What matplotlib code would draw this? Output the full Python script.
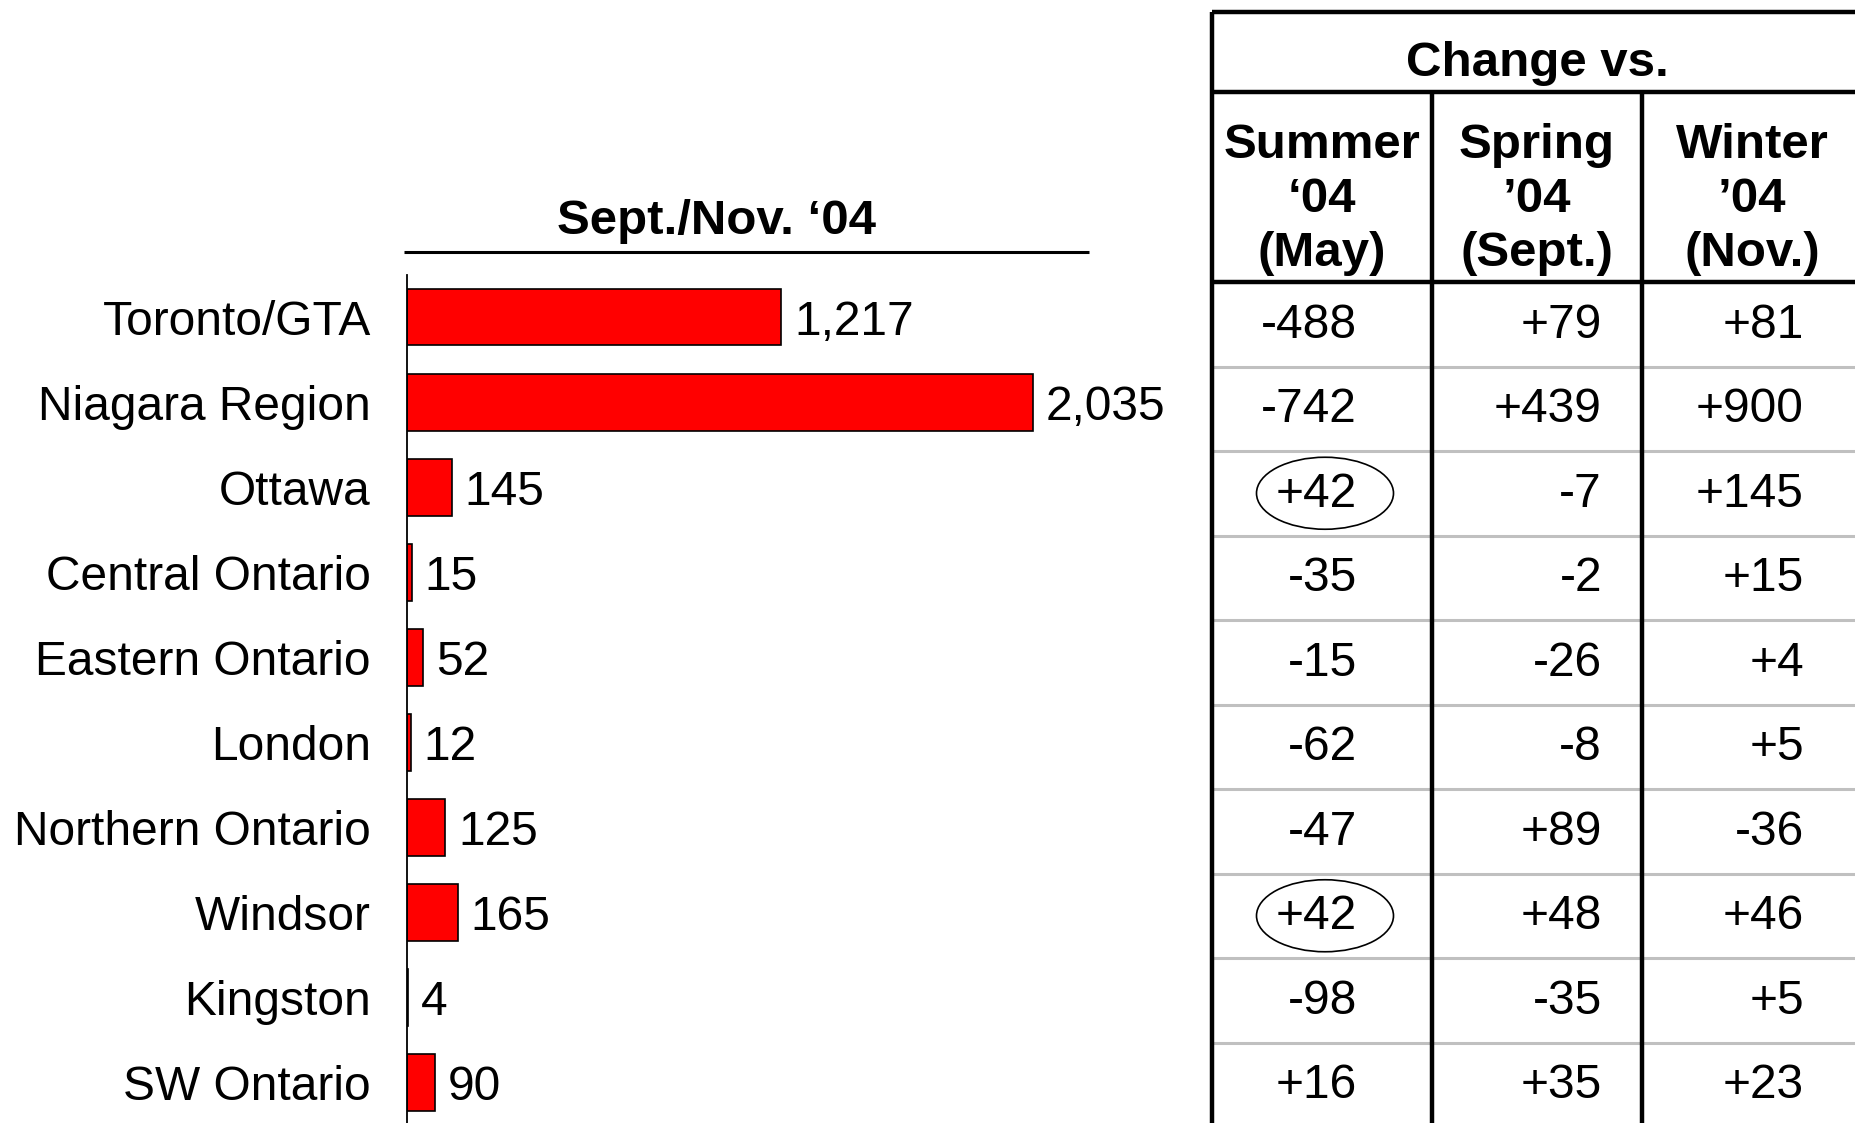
import matplotlib
matplotlib.use('Agg')
import matplotlib.pyplot as plt
from matplotlib.patches import Ellipse

# Данные
regions = ['Toronto/GTA', 'Niagara Region', 'Ottawa', 'Central Ontario', 'Eastern Ontario',
           'London', 'Northern Ontario', 'Windsor', 'Kingston', 'SW Ontario']
sept_nov = [1217, 2035, 145, 15, 52, 12, 125, 165, 4, 90]
vs_summer = ['-488', '-742', '+42', '-35', '-15', '-62', '-47', '+42', '-98', '+16']
vs_spring = ['+79', '+439', '-7', '-2', '-26', '-8', '+89', '+48', '-35', '+35']
vs_winter = ['+81', '+900', '+145', '+15', '+4', '+5', '-36', '+46', '+5', '+23']
circled = [2, 7]  # строки с обведёнными значениями (Summer)
col_heads = [['Summer', '\u201804', '(May)'],
             ['Spring', '\u201904', '(Sept.)'],
             ['Winter', '\u201904', '(Nov.)']]

W, H = 1856, 1123
plt.rcParams['font.family'] = ['Liberation Sans', 'DejaVu Sans']
fig = plt.figure(figsize=(W / 100, H / 100), dpi=100)
FS = 34.5

# Левая часть: горизонтальные столбики
ax = fig.add_axes([407 / W, 0, 682 / W, (H - 275) / H])
ypos = list(range(len(regions)))
ax.barh(ypos, sept_nov, height=0.67, color='#ff0000', edgecolor='black', linewidth=1.2)
ax.set_xlim(0, 682 / 0.3076)
ax.set_ylim(len(regions) - 0.52, -0.494)
ax.set_yticks(ypos)
ax.set_yticklabels(regions, fontsize=FS)
ax.tick_params(axis='y', length=0, pad=26)
ax.set_xticks([])
for s in ['top', 'right', 'bottom']:
    ax.spines[s].set_visible(False)
ax.spines['left'].set_linewidth(1.3)
for i, v in enumerate(sept_nov):
    ax.text(v + 42, i, f'{v:,}', va='center_baseline', ha='left', fontsize=FS)

# Заголовок и подчёркивание
ov = fig.add_axes([0, 0, 1, 1], zorder=5)
ov.set_xlim(0, W)
ov.set_ylim(H, 0)
ov.axis('off')
ov.text(717, 221, 'Sept./Nov. \u201804', ha='center', va='center', fontsize=FS + 1,
        fontweight='bold')
ov.plot([404, 1089], [252, 252], color='black', lw=2.2, solid_capstyle='butt')

# Правая часть: таблица
x_edges = [1212, 1432, 1642, 1862]
top, sub, head_bot = 12, 92, 282
row_h = 84.5
blk = dict(color='black', lw=3.2, solid_capstyle='butt')
ov.plot([x_edges[0], W], [top, top], **blk)
ov.plot([x_edges[0], W], [sub, sub], **blk)
ov.plot([x_edges[0], W], [head_bot, head_bot], **blk)
ov.plot([x_edges[0], x_edges[0]], [top, H], **blk)
for x in x_edges[1:3]:
    ov.plot([x, x], [sub, H], **blk)
for r in range(1, len(regions)):
    y = head_bot + r * row_h
    ov.plot([x_edges[0] + 2, W], [y, y], color='#c0c0c0', lw=2.2, zorder=1)

ov.text((x_edges[0] + x_edges[3]) / 2, 63, 'Change vs.', ha='center', va='center',
        fontsize=FS + 1, fontweight='bold')
for c, lines in enumerate(col_heads):
    xc = (x_edges[c] + x_edges[c + 1]) / 2
    for k, t in enumerate(lines):
        ov.text(xc, 146 + 54 * k, t, ha='center', va='center', fontsize=FS + 1,
                fontweight='bold')

# значения выровнены по правому краю в каждой колонке
for r in range(len(regions)):
    yc = head_bot + (r + 0.5) * row_h + 1
    ov.text(1357, yc, vs_summer[r], ha='right', va='center', fontsize=FS)
    ov.text(1602, yc, vs_spring[r], ha='right', va='center', fontsize=FS)
    ov.text(1804, yc, vs_winter[r], ha='right', va='center', fontsize=FS)
    if r in circled:
        ov.add_patch(Ellipse((1325, yc - 1), 137, 72, fill=False, edgecolor='black', lw=1.2))

fig.savefig('out.png', dpi=100)
